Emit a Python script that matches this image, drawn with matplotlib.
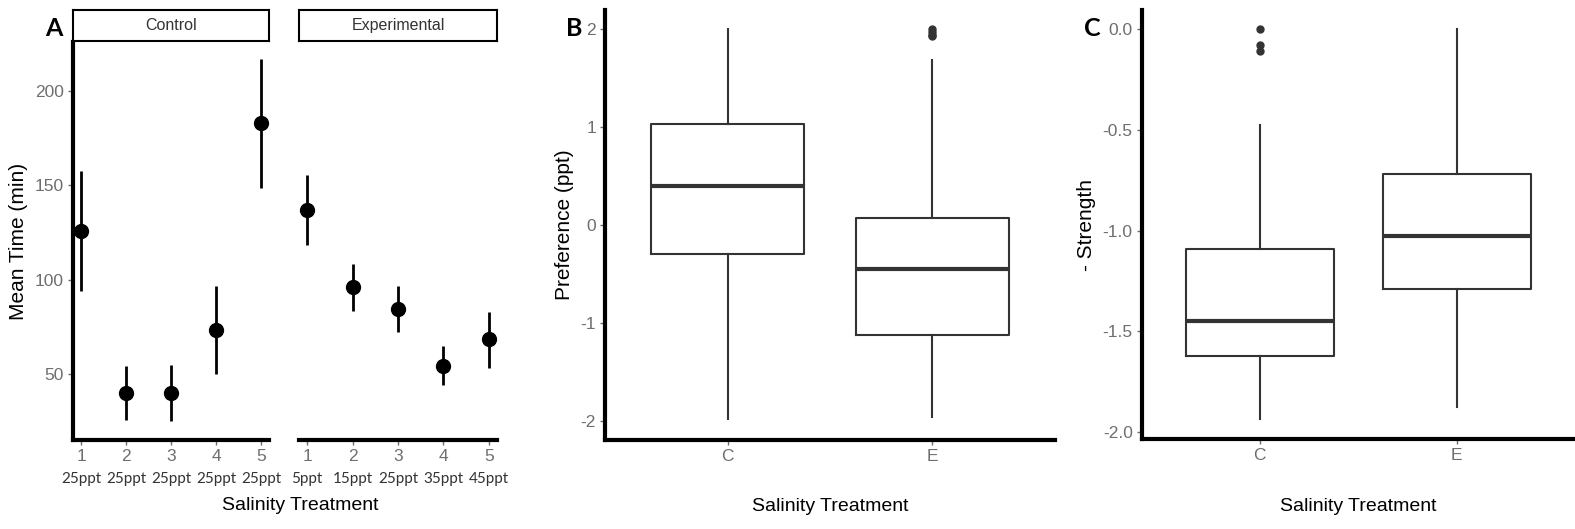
import numpy as np
import matplotlib.pyplot as plt

plt.rcParams['font.family'] = ['Liberation Sans', 'DejaVu Sans']
plt.rcParams['axes.unicode_minus'] = False

# ---- panel A: mean time per trial ----
trials = [1, 2, 3, 4, 5]
control_ppt = ['25ppt', '25ppt', '25ppt', '25ppt', '25ppt']
exp_ppt = ['5ppt', '15ppt', '25ppt', '35ppt', '45ppt']
control_mean = [126, 40, 40, 73.5, 182.8]
control_lo = [94.2, 25.8, 25.3, 50.2, 148.7]
control_hi = [157.4, 54.0, 54.6, 96.8, 216.8]
exp_mean = [137, 96.1, 84.5, 54.4, 68.4]
exp_lo = [118.5, 83.2, 72.1, 44.3, 53.2]
exp_hi = [155.3, 108.3, 96.8, 64.6, 82.9]

# ---- panel B / C: boxplot summaries ----
groups = ['C', 'E']
pref_q1 = [-0.30, -1.12]
pref_med = [0.40, -0.45]
pref_q3 = [1.027, 0.068]
pref_whislo = [-1.98, -1.96]
pref_whishi = [2.0, 1.68]
pref_fliers = [[], [2.0, 1.97, 1.94, 1.92]]

str_q1 = [-1.62, -1.29]
str_med = [-1.447, -1.025]
str_q3 = [-1.093, -0.721]
str_whislo = [-1.933, -1.874]
str_whishi = [-0.476, 0.0]
str_fliers = [[0.0, -0.08, -0.11], []]

W, H = 1575, 529
fig = plt.figure(figsize=(W / 100, H / 100), dpi=100)

tick_col = '#6e6e6e'
line_col = '#333333'


def px_axes(x0, y0, x1, y1):
    # pixel box (top-left origin) -> figure axes
    return fig.add_axes([x0 / W, 1 - y1 / H, (x1 - x0) / W, (y1 - y0) / H])


def style(ax, left=True):
    for s in ['top', 'right']:
        ax.spines[s].set_visible(False)
    ax.spines['bottom'].set_linewidth(3)
    ax.spines['left'].set_linewidth(3)
    if not left:
        ax.spines['left'].set_visible(False)
    ax.tick_params(colors=tick_col, labelsize=12.5, length=3.5, width=1, pad=3)


# panel A
axc = px_axes(73, 42, 269, 440)
axe = px_axes(299, 42, 497, 440)
for ax, m, lo, hi, ppt, name in [(axc, control_mean, control_lo, control_hi, control_ppt, 'Control'),
                                 (axe, exp_mean, exp_lo, exp_hi, exp_ppt, 'Experimental')]:
    m = np.array(m)
    err = [m - np.array(lo), np.array(hi) - m]
    ax.errorbar(trials, m, yerr=err, fmt='o', color='black', ms=10, elinewidth=2, capsize=0)
    ax.set_xlim(0.82, 5.18)
    ax.set_ylim(15, 226)
    ax.set_xticks(trials)
    ax.set_yticks([50, 100, 150, 200])
    style(ax, left=(ax is axc))
    if ax is axe:
        ax.tick_params(axis='y', left=False, labelleft=False)
    for t, lab in zip(trials, ppt):
        ax.text(t, -0.097, lab, transform=ax.get_xaxis_transform(), ha='center', va='center',
                fontsize=11, color='#333333', family=['Lato', 'DejaVu Sans'])
    # strip
    bb = ax.get_position()
    st = fig.add_axes([bb.x0, 1 - 41 / H, bb.width, 31 / H])
    st.set_xticks([])
    st.set_yticks([])
    for s in st.spines.values():
        s.set_linewidth(1.5)
    st.text(0.5, 0.5, name, ha='center', va='center', fontsize=11.5, color='#333333')

axc.set_ylabel('Mean Time (min)', fontsize=15, labelpad=5)
fig.text(300 / W, 1 - 505 / H, 'Salinity Treatment', ha='center', va='center', fontsize=14)


def box_panel(ax, q1, med, q3, lo, hi, fl):
    stats = []
    for i in range(len(groups)):
        stats.append(dict(q1=q1[i], med=med[i], q3=q3[i], whislo=lo[i], whishi=hi[i],
                          fliers=fl[i], label=groups[i]))
    ax.bxp(stats, positions=[1, 2], widths=0.75, showcaps=False,
           boxprops=dict(color=line_col, linewidth=1.5),
           whiskerprops=dict(color=line_col, linewidth=1.5),
           medianprops=dict(color=line_col, linewidth=3),
           flierprops=dict(marker='o', markerfacecolor=line_col, markeredgecolor=line_col, markersize=5))
    ax.set_xlim(0.4, 2.6)
    style(ax)
    ax.set_xlabel('Salinity Treatment', fontsize=14, labelpad=25)


axb = px_axes(605, 10, 1055, 439.5)
box_panel(axb, pref_q1, pref_med, pref_q3, pref_whislo, pref_whishi, pref_fliers)
axb.set_ylim(-2.19, 2.19)
axb.set_yticks([-2, -1, 0, 1, 2])
axb.set_ylabel('Preference (ppt)', fontsize=15, labelpad=5)

axs = px_axes(1141.7, 10, 1575, 439.3)
box_panel(axs, str_q1, str_med, str_q3, str_whislo, str_whishi, str_fliers)
axs.set_ylim(-2.035, 0.094)
axs.set_yticks([-2.0, -1.5, -1.0, -0.5, 0.0])
axs.set_yticklabels(['-2.0', '-1.5', '-1.0', '-0.5', '0.0'])
axs.set_ylabel('- Strength', fontsize=15, labelpad=5)

for lab, x in [('A', 54), ('B', 574), ('C', 1092)]:
    fig.text(x / W, 1 - 29 / H, lab, ha='center', va='center', fontsize=18,
             fontweight='bold', family=['Lato', 'DejaVu Sans'])

fig.savefig('out.png', dpi=100)
